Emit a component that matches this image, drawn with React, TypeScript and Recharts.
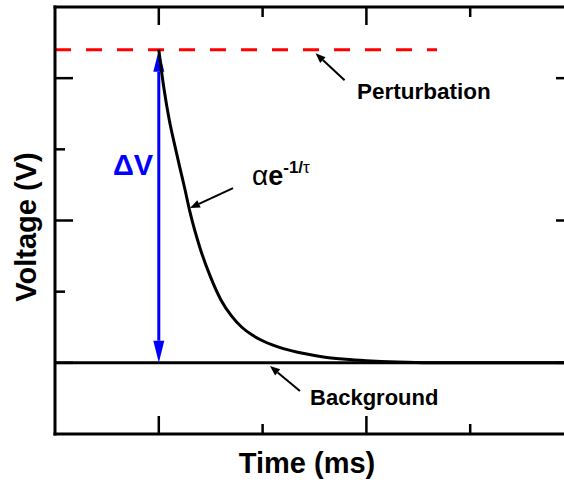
import {
  ComposedChart,
  Line,
  XAxis,
  YAxis,
  ReferenceLine,
  ReferenceDot,
  Label,
} from 'recharts';

const FONT = '"Liberation Sans", Arial, Helvetica, sans-serif';

// axis ticks (no tick labels, inward ticks only)
const timeTicks = [1, 2, 3, 4];
const voltTicks = [1, 2, 3, 4, 5];
const majorTimeTicks = [1, 3, 5];
const majorVoltTicks = [1, 3, 5];

// exponential relaxation after the perturbation (ms, V)
const decayTime = [1.0, 1.05, 1.1, 1.15, 1.2, 1.25, 1.3, 1.4, 1.5, 1.6, 1.7, 1.8, 1.9, 2.0, 2.2, 2.4, 2.6, 2.8, 3.0, 3.3, 3.6, 4.0, 5.0];
const decayVolt = [5.4, 4.85, 4.42, 4.08, 3.76, 3.45, 3.12, 2.6, 2.2, 1.88, 1.66, 1.5, 1.39, 1.31, 1.2, 1.13, 1.08, 1.05, 1.03, 1.01, 1.0, 1.0, 1.0];

// background level
const backgroundTime = [0, 5];
const backgroundVolt = [1, 1];

// perturbation level
const perturbTime = [0, 3.68];
const perturbVolt = [5.4, 5.4];

const toRows = (ts: number[], vs: number[]) => ts.map((t, i) => ({ t, v: vs[i] }));
const decayData = toRows(decayTime, decayVolt);
const backgroundData = toRows(backgroundTime, backgroundVolt);
const perturbData = toRows(perturbTime, perturbVolt);

const headPoints = (tx: number, ty: number, fx: number, fy: number, len: number, half: number) => {
  const dx = tx - fx;
  const dy = ty - fy;
  const d = Math.hypot(dx, dy) || 1;
  const ux = dx / d;
  const uy = dy / d;
  const bx = tx - ux * len;
  const by = ty - uy * len;
  return {
    pts: `${tx},${ty} ${bx - uy * half},${by + ux * half} ${bx + uy * half},${by - ux * half}`,
    bx,
    by,
  };
};

// double headed arrow for the amplitude
const DoubleArrow = (p: any) => {
  const { x1, y1, x2, y2 } = p;
  const a = headPoints(x1, y1, x2, y2, 22, 5.5);
  const b = headPoints(x2, y2, x1, y1, 22, 5.5);
  return (
    <g>
      <line x1={a.bx} y1={a.by} x2={b.bx} y2={b.by} stroke="#0000ff" strokeWidth={3} />
      <polygon points={a.pts} fill="#0000ff" />
      <polygon points={b.pts} fill="#0000ff" />
    </g>
  );
};

// thin pointer arrow, head at the second point
const Pointer = (p: any) => {
  const { x1, y1, x2, y2 } = p;
  const h = headPoints(x2, y2, x1, y1, 10, 4);
  return (
    <g>
      <line x1={x1} y1={y1} x2={h.bx} y2={h.by} stroke="#000" strokeWidth={2} />
      <polygon points={h.pts} fill="#000" />
    </g>
  );
};

const makeTick = (side: 'bottom' | 'top' | 'left' | 'right', majors: number[]) => (props: any) => {
  const { x, y, payload } = props;
  const len = majors.includes(payload.value) ? 18 : 10;
  let x2 = x;
  let y2 = y;
  if (side === 'bottom') y2 = y - len;
  if (side === 'top') y2 = y + len;
  if (side === 'left') x2 = x + len;
  if (side === 'right') x2 = x - len;
  return <line x1={x} y1={y} x2={x2} y2={y2} stroke="#000" strokeWidth={2.5} />;
};

const axisLine = { stroke: '#000', strokeWidth: 3, strokeLinecap: 'square' as const };

const textAt = (content: any, size: number, color = '#000') => (p: any) => (
  <text x={p.cx} y={p.cy} fontFamily={FONT} fontSize={size} fontWeight="bold" fill={color}>
    {content}
  </text>
);

export default function App() {
  return (
    <div style={{ position: 'absolute', left: 0, top: 0, width: 564, height: 480, overflow: 'hidden', background: '#fff' }}>
      <ComposedChart width={600} height={480} margin={{ top: 0, right: 0, bottom: 0, left: 0 }}>
        <XAxis
          xAxisId="bottom"
          dataKey="t"
          type="number"
          domain={[0, 5]}
          ticks={timeTicks}
          orientation="bottom"
          height={46}
          tickSize={0}
          tickMargin={0}
          tickLine={false}
          axisLine={axisLine}
          tick={makeTick('bottom', majorTimeTicks)}
          allowDataOverflow
        >
          <Label
            content={() => (
              <text x={307} y={473} textAnchor="middle" fontFamily={FONT} fontSize={29} fontWeight="bold" fill="#000">
                Time (ms)
              </text>
            )}
          />
        </XAxis>
        <XAxis
          xAxisId="top"
          dataKey="t"
          type="number"
          domain={[0, 5]}
          ticks={timeTicks}
          orientation="top"
          height={7}
          tickSize={0}
          tickMargin={0}
          tickLine={false}
          axisLine={axisLine}
          tick={makeTick('top', majorTimeTicks)}
          allowDataOverflow
        />
        <YAxis
          yAxisId="left"
          type="number"
          domain={[0, 6]}
          ticks={voltTicks}
          orientation="left"
          width={55}
          tickSize={0}
          tickMargin={0}
          tickLine={false}
          axisLine={axisLine}
          tick={makeTick('left', majorVoltTicks)}
          allowDataOverflow
        >
          <Label
            content={() => (
              <text
                transform="translate(36,227) rotate(-90)"
                textAnchor="middle"
                fontFamily={FONT}
                fontSize={29}
                fontWeight="bold"
                fill="#000"
              >
                Voltage (V)
              </text>
            )}
          />
        </YAxis>
        <YAxis
          yAxisId="right"
          type="number"
          domain={[0, 6]}
          ticks={voltTicks}
          orientation="right"
          width={26}
          tickSize={0}
          tickMargin={0}
          tickLine={false}
          axisLine={axisLine}
          tick={makeTick('right', majorVoltTicks)}
          allowDataOverflow
        />

        <Line
          xAxisId="bottom"
          yAxisId="left"
          data={backgroundData}
          dataKey="v"
          type="linear"
          stroke="#000"
          strokeWidth={3}
          dot={false}
          activeDot={false}
          isAnimationActive={false}
        />
        <Line
          xAxisId="bottom"
          yAxisId="left"
          data={perturbData}
          dataKey="v"
          type="linear"
          stroke="#ff0000"
          strokeWidth={3}
          strokeDasharray="16 15"
          dot={false}
          activeDot={false}
          isAnimationActive={false}
        />
        <ReferenceLine
          xAxisId="bottom"
          yAxisId="left"
          segment={[
            { x: 1, y: backgroundVolt[0] },
            { x: 1, y: perturbVolt[0] },
          ]}
          shape={DoubleArrow}
        />
        <Line
          xAxisId="bottom"
          yAxisId="left"
          data={decayData}
          dataKey="v"
          type="monotone"
          stroke="#000"
          strokeWidth={3}
          dot={false}
          activeDot={false}
          isAnimationActive={false}
        />

        {/* pointers to the labelled curves */}
        <ReferenceLine
          xAxisId="bottom"
          yAxisId="left"
          segment={[
            { x: 2.79, y: 4.97 },
            { x: 2.51, y: 5.35 },
          ]}
          shape={Pointer}
        />
        <ReferenceLine
          xAxisId="bottom"
          yAxisId="left"
          segment={[
            { x: 1.715, y: 3.456 },
            { x: 1.3, y: 3.175 },
          ]}
          shape={Pointer}
        />
        <ReferenceLine
          xAxisId="bottom"
          yAxisId="left"
          segment={[
            { x: 2.36, y: 0.604 },
            { x: 2.071, y: 0.955 },
          ]}
          shape={Pointer}
        />

        <ReferenceDot xAxisId="bottom" yAxisId="left" x={0.559} y={3.639} r={0} shape={textAt('ΔV', 29, '#0000ff')} />
        <ReferenceDot
          xAxisId="bottom"
          yAxisId="left"
          x={1.898}
          y={3.5}
          r={0}
          shape={textAt(
            <>
              <tspan fontWeight="normal" fontSize={28}>α</tspan>
              <tspan>e</tspan>
              <tspan fontSize={17} dy={-12}>-1/</tspan>
              <tspan fontSize={17} fontWeight="normal">τ</tspan>
            </>,
            27
          )}
        />
        <ReferenceDot xAxisId="bottom" yAxisId="left" x={2.909} y={4.707} r={0} shape={textAt('Perturbation', 22.5)} />
        <ReferenceDot xAxisId="bottom" yAxisId="left" x={2.457} y={0.407} r={0} shape={textAt('Background', 22)} />
      </ComposedChart>
    </div>
  );
}
